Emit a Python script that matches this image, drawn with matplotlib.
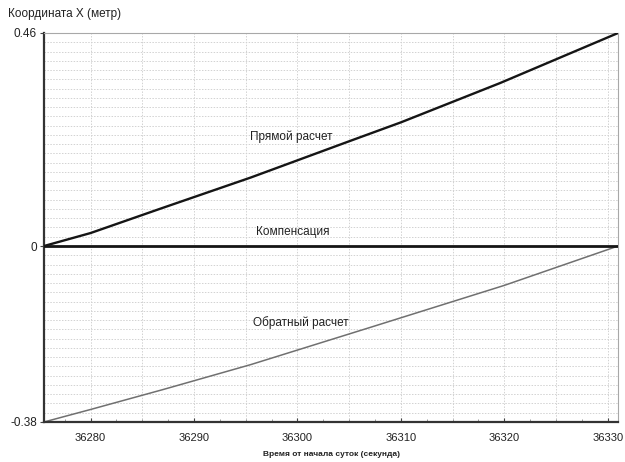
import matplotlib.pyplot as plt
import numpy as np
from matplotlib.ticker import MultipleLocator

plt.rcParams["font.family"] = ["Liberation Sans", "DejaVu Sans"]

# time axis, seconds since start of day
t_start, t_end = 36275.5, 36331.0

direct_t = [36275.5, 36280.0, 36286.8, 36295.5, 36305.1, 36310.0, 36319.6, 36331.0]
direct_x = [0.0, 0.028, 0.081, 0.148, 0.227, 0.267, 0.352, 0.46]

reverse_t = [36275.5, 36280.0, 36287.0, 36295.5, 36307.0, 36320.0, 36331.0]
reverse_x = [-0.38, -0.353, -0.31, -0.256, -0.176, -0.085, 0.0]

comp_t = [36275.5, 36331.0]
comp_x = [0.0, 0.0]

y_ticks = [-0.38, 0.0, 0.46]
y_tick_labels = ["-0.38", "0", "0.46"]
x_ticks = [36280, 36290, 36300, 36310, 36320, 36330]

fig = plt.figure(figsize=(6.25, 4.62), dpi=100)
ax = fig.add_axes([0.0704, 0.0866, 0.9186, 0.842])

ax.set_xlim(t_start, t_end)
ax.set_ylim(-0.38, 0.46)

# dotted background grid
for gx in np.arange(36280, 36331, 5):
    ax.axvline(gx, color="#d2d2d2", linestyle=(0, (1.5, 1.5)), linewidth=0.7, zorder=0)
for gy in np.arange(-0.38, 0.461, 0.02):
    ax.axhline(gy, color="#d2d2d2", linestyle=(0, (1.5, 1.5)), linewidth=0.7, zorder=0)

ax.plot(reverse_t, reverse_x, color="#707070", linewidth=1.1, zorder=2)
ax.plot(direct_t, direct_x, color="#151515", linewidth=1.7, zorder=3)
ax.plot(comp_t, comp_x, color="#151515", linewidth=2.0, zorder=3)

ax.text(36299.4, 0.236, "Прямой расчет", fontsize=8.5, ha="center", va="center", color="#222222")
ax.text(36299.5, 0.031, "Компенсация", fontsize=8.5, ha="center", va="center", color="#222222")
ax.text(36300.3, -0.165, "Обратный расчет", fontsize=8.5, ha="center", va="center", color="#222222")

ax.set_yticks(y_ticks)
ax.set_yticklabels(y_tick_labels, fontsize=8.5, color="#222222")
ax.set_xticks(x_ticks)
ax.set_xticklabels([str(v) for v in x_ticks], fontsize=8, color="#222222")
ax.xaxis.set_minor_locator(MultipleLocator(2.5))
ax.tick_params(axis="x", which="major", direction="in", length=3, pad=8, color="#444444")
ax.tick_params(axis="x", which="minor", direction="in", length=2, color="#888888")
ax.tick_params(axis="y", direction="out", length=3, pad=2, color="#444444")

for side in ("left", "bottom"):
    ax.spines[side].set_color("#333333")
    ax.spines[side].set_linewidth(1.6)
for side in ("top", "right"):
    ax.spines[side].set_color("#a8a8a8")
    ax.spines[side].set_linewidth(0.8)

fig.text(0.013, 0.969, "Координата X (метр)", fontsize=8.5, ha="left", va="center", color="#222222")
ax.set_xlabel("Время от начала суток (секунда)", fontsize=6, fontweight="bold", color="#222222", labelpad=6)

fig.savefig("out.png", dpi=100)
